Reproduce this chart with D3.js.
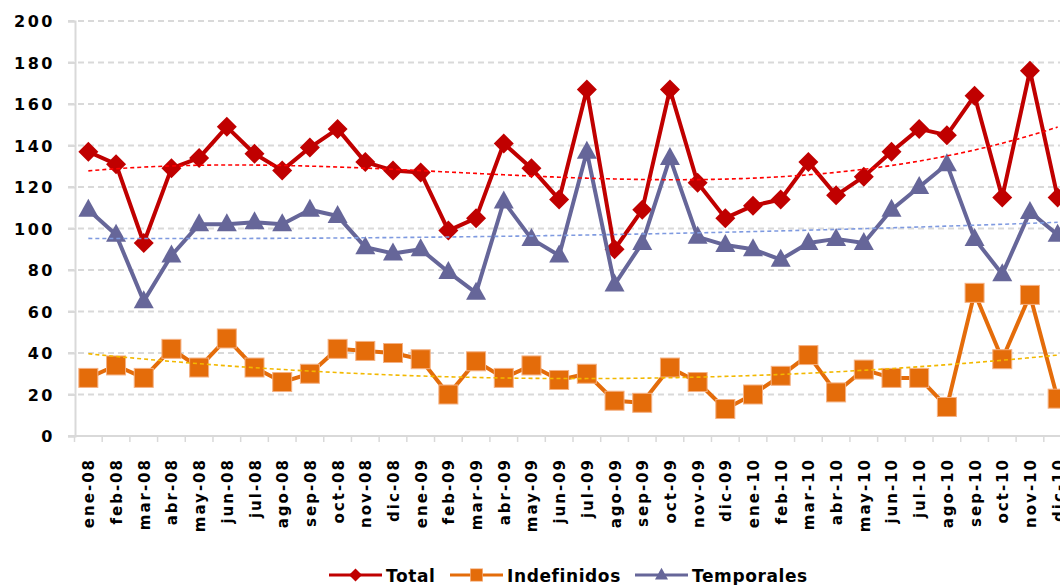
<!DOCTYPE html>
<html>
<head>
<meta charset="utf-8">
<title>Total / Indefinidos / Temporales</title>
<script src="https://cdn.jsdelivr.net/npm/d3@7"></script>
<style>
  body { margin: 0; background: #fff; }
  svg text { font-family: "DejaVu Sans", Verdana, sans-serif; font-weight: bold; fill: #000; }
</style>
</head>
<body>
<svg id="chart" width="1060" height="585"></svg>
<script>
var months = ['ene-08','feb-08','mar-08','abr-08','may-08','jun-08','jul-08','ago-08','sep-08','oct-08','nov-08','dic-08',
              'ene-09','feb-09','mar-09','abr-09','may-09','jun-09','jul-09','ago-09','sep-09','oct-09','nov-09','dic-09',
              'ene-10','feb-10','mar-10','abr-10','may-10','jun-10','jul-10','ago-10','sep-10','oct-10','nov-10','dic-10'];
var total = [137,131,93,129,134,149,136,128,139,148,132,128,
             127,99,105,141,129,114,167,90,109,167,122,105,
             111,114,132,116,125,137,148,145,164,115,176,115];
var indefinidos = [28,34,28,42,33,47,33,26,30,42,41,40,
                   37,20,36,28,34,27,30,17,16,33,26,13,
                   20,29,39,21,32,28,28,14,69,37,68,18];
var temporales = [109,97,65,87,102,102,103,102,109,106,91,88,
                  90,79,69,113,95,87,137,73,93,134,96,92,
                  90,85,93,95,93,109,120,131,95,78,108,97];
var yTicks = [0,20,40,60,80,100,120,140,160,180,200];

// trend = order of the polynomial trendline
var series = [
  { name: 'Total', values: total, color: '#C00000', trend: '#FF0000', order: 3, marker: 'diamond' },
  { name: 'Indefinidos', values: indefinidos, color: '#E46C0A', trend: '#F2B800', order: 2, marker: 'square' },
  { name: 'Temporales', values: temporales, color: '#666699', trend: '#7F9AE0', order: 2, marker: 'triangle' }
];

var svg = d3.select('#chart');
var x = d3.scaleBand().domain(months).range([74.5, 1071.5]).paddingInner(0);
var cx = function (m) { return x(m) + x.bandwidth() / 2; };
var y = d3.scaleLinear().domain([0, 200]).range([436, 21]);

// grid
svg.append('g').selectAll('line').data(yTicks.filter(function (d) { return d > 0; }))
  .enter().append('line')
  .attr('x1', 68).attr('x2', 1072)
  .attr('y1', function (d) { return y(d); }).attr('y2', function (d) { return y(d); })
  .attr('stroke', '#d9d9d9').attr('stroke-width', 2).attr('stroke-dasharray', '6,4');

// axes
var yAxis = d3.axisLeft(y).tickValues(yTicks).tickSize(7).tickPadding(13);
var gy = svg.append('g').attr('transform', 'translate(75,0)').call(yAxis);
gy.select('.domain').attr('stroke', '#d9d9d9').attr('stroke-width', 2);
gy.selectAll('.tick line').attr('stroke', '#d9d9d9').attr('stroke-width', 2);
gy.selectAll('.tick text').style('font-size', '16px').style('letter-spacing', '2.5px').attr('dy', '0.36em');

svg.append('line').attr('x1', 68).attr('x2', 1072).attr('y1', y(0)).attr('y2', y(0))
  .attr('stroke', '#d9d9d9').attr('stroke-width', 2);
svg.append('g').selectAll('line').data(months).enter().append('line')
  .attr('x1', function (m) { return x(m); }).attr('x2', function (m) { return x(m); })
  .attr('y1', y(0)).attr('y2', y(0) + 6)
  .attr('stroke', '#d9d9d9').attr('stroke-width', 1.5);

svg.append('g').selectAll('text').data(months).enter().append('text')
  .attr('transform', function (m) { return 'translate(' + (cx(m) + 6) + ',458) rotate(-90)'; })
  .attr('text-anchor', 'end')
  .style('font-size', '15px').style('letter-spacing', '2px')
  .text(function (m) { return m; });

// polynomial trend (least squares)
function polyFit(vals, order) {
  var n = order + 1, A = [], i, j, k;
  for (i = 0; i < n; i++) { A.push([]); for (j = 0; j <= n; j++) A[i].push(0); }
  vals.forEach(function (v, idx) {
    var t = idx + 1;
    for (i = 0; i < n; i++) {
      for (j = 0; j < n; j++) A[i][j] += Math.pow(t, i + j);
      A[i][n] += v * Math.pow(t, i);
    }
  });
  for (i = 0; i < n; i++) {
    var p = i;
    for (k = i + 1; k < n; k++) if (Math.abs(A[k][i]) > Math.abs(A[p][i])) p = k;
    var tmp = A[i]; A[i] = A[p]; A[p] = tmp;
    for (k = i + 1; k < n; k++) {
      var f = A[k][i] / A[i][i];
      for (j = i; j <= n; j++) A[k][j] -= f * A[i][j];
    }
  }
  var c = new Array(n).fill(0);
  for (i = n - 1; i >= 0; i--) {
    var s = A[i][n];
    for (j = i + 1; j < n; j++) s -= A[i][j] * c[j];
    c[i] = s / A[i][i];
  }
  return function (t) { var r = 0; for (var q = 0; q < n; q++) r += c[q] * Math.pow(t, q); return r; };
}

var line = d3.line().x(function (d) { return cx(d.m); }).y(function (d) { return y(d.v); });
var trendLine = d3.line().x(function (d) { return d.px; }).y(function (d) { return y(d.v); }).curve(d3.curveMonotoneX);

var marks = {
  diamond: function (g) { g.append('path').attr('d', 'M0,-10L10,0L0,10L-10,0Z'); },
  square: function (g) { g.append('rect').attr('x', -9.5).attr('y', -9.5).attr('width', 19).attr('height', 19)
    .attr('stroke', '#F4B183').attr('stroke-width', 1); },
  triangle: function (g) { g.append('path').attr('d', 'M0,-11L10,7L-10,7Z'); }
};

series.forEach(function (s) {
  var pts = s.values.map(function (v, i) { return { m: months[i], v: v }; });
  svg.append('path').datum(pts).attr('d', line)
    .attr('fill', 'none').attr('stroke', s.color).attr('stroke-width', 4).attr('stroke-linejoin', 'round');
  svg.append('g').selectAll('g').data(pts).enter().append('g')
    .attr('transform', function (d) { return 'translate(' + cx(d.m) + ',' + y(d.v) + ')'; })
    .attr('fill', s.color)
    .each(function () { marks[s.marker](d3.select(this)); });
});

series.forEach(function (s) {
  var fit = polyFit(s.values, s.order);
  var tp = d3.range(1, 36.01, 0.25).map(function (t) {
    return { px: cx(months[0]) + (t - 1) * x.bandwidth(), v: fit(t) };
  });
  svg.append('path').datum(tp).attr('d', trendLine)
    .attr('fill', 'none').attr('stroke', s.trend).attr('stroke-width', 1.6).attr('stroke-dasharray', '4,3');
});

// legend
var legendX = [329, 450, 635];
var lg = svg.append('g').attr('transform', 'translate(0,575)');
series.forEach(function (s, i) {
  var g = lg.append('g').attr('transform', 'translate(' + legendX[i] + ',0)');
  g.append('line').attr('x1', 0).attr('x2', 53).attr('stroke', s.color).attr('stroke-width', 3);
  var mk = g.append('g').attr('transform', 'translate(26.5,0) scale(0.65)').attr('fill', s.color);
  marks[s.marker](mk);
  g.append('text').attr('x', 57).attr('y', 6.5).style('font-size', '17px').style('letter-spacing', '0.6px').text(s.name);
});
</script>
</body>
</html>
